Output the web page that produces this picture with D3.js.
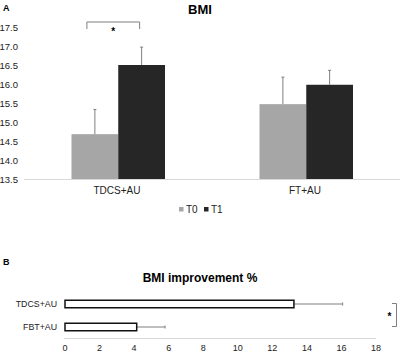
<!DOCTYPE html>
<html>
<head>
<meta charset="utf-8">
<script src="https://cdn.jsdelivr.net/npm/d3@7"></script>
<style>
  body { margin: 0; background: #fff; }
  svg { display: block; font-family: "Liberation Sans", Arial, sans-serif; }
</style>
</head>
<body>
<div id="chart"></div>
<script>
// Panel A data: mean BMI at T0 and T1, with SD (upper bar only)
const groups = ["TDCS+AU", "FT+AU"];
const series = ["T0", "T1"];
const bmiMeans = [[14.68, 16.5], [15.47, 15.98]];
const bmiErrs = [[0.65, 0.47], [0.71, 0.38]];
const yTicks = [13.5, 14.0, 14.5, 15.0, 15.5, 16.0, 16.5, 17.0, 17.5];

// Panel B data: BMI improvement %
const impGroups = ["TDCS+AU", "FBT+AU"];
const impValues = [13.25, 4.15];
const impErrs = [2.82, 1.64];
const xTicks = [0, 2, 4, 6, 8, 10, 12, 14, 16, 18];

const colors = { T0: "#a6a6a6", T1: "#262626" };

const svg = d3.select("#chart").append("svg")
  .attr("width", 400)
  .attr("height", 352);

// ---------- Panel A ----------
svg.append("text").attr("x", 3).attr("y", 11)
  .attr("font-size", 9).attr("font-weight", "bold").text("A");

svg.append("text").attr("x", 200).attr("y", 14)
  .attr("text-anchor", "middle").attr("font-size", 13).attr("font-weight", "bold")
  .text("BMI");

const y = d3.scaleLinear().domain([13.5, 17.5]).range([179, 27]);
const x0 = d3.scaleBand().domain(groups).range([24, 400]);
const x1 = d3.scaleBand().domain(series).range([47.5, 141]);

// y tick labels
svg.append("g").selectAll("text")
  .data(yTicks).enter().append("text")
  .attr("x", 18).attr("y", d => y(d) + 3.5)
  .attr("text-anchor", "end").attr("font-size", 9.5).attr("fill", "#222")
  .text(d => d.toFixed(1));

const gA = svg.append("g");
groups.forEach((g, gi) => {
  series.forEach((s, si) => {
    const bx = x0(g) + x1(s);
    const v = bmiMeans[gi][si];
    gA.append("rect")
      .attr("x", bx).attr("y", y(v))
      .attr("width", x1.bandwidth()).attr("height", y(13.5) - y(v))
      .attr("fill", colors[s]);
    const cx = bx + x1.bandwidth() / 2;
    const top = y(v + bmiErrs[gi][si]);
    gA.append("line").attr("x1", cx).attr("x2", cx)
      .attr("y1", y(v)).attr("y2", top)
      .attr("stroke", "#7f7f7f").attr("stroke-width", 1);
    gA.append("line").attr("x1", cx - 1.5).attr("x2", cx + 1.5)
      .attr("y1", top).attr("y2", top)
      .attr("stroke", "#7f7f7f").attr("stroke-width", 1);
  });
});

// x axis line
svg.append("line").attr("x1", 24).attr("x2", 400)
  .attr("y1", y(13.5) + 0.5).attr("y2", y(13.5) + 0.5)
  .attr("stroke", "#d9d9d9").attr("stroke-width", 1);

svg.append("g").selectAll("text")
  .data(groups).enter().append("text")
  .attr("x", d => x0(d) + x0.bandwidth() / 2 - 1)
  .attr("y", 194)
  .attr("text-anchor", "middle").attr("font-size", 10).attr("fill", "#222")
  .text(d => d);

// legend
const legend = svg.append("g");
[["T0", 181], ["T1", 206]].forEach(([s, lx]) => {
  legend.append("rect").attr("x", lx - 2).attr("y", 207)
    .attr("width", 4.5).attr("height", 4.5).attr("fill", colors[s]);
  legend.append("text").attr("x", lx + 5).attr("y", 212.5)
    .attr("font-size", 10).attr("fill", "#222").text(s);
});

// significance bracket A
const bl = x0(groups[0]) + x1("T0") + x1.bandwidth() / 2 - 8;
const br = x0(groups[0]) + x1("T1") + x1.bandwidth() / 2 - 2;
svg.append("path")
  .attr("d", `M${bl},29 V22 H${br} V29`)
  .attr("fill", "none").attr("stroke", "#7f7f7f").attr("stroke-width", 1);
svg.append("text").attr("x", (bl + br) / 2).attr("y", 35)
  .attr("text-anchor", "middle").attr("font-size", 10).attr("font-weight", "bold")
  .text("*");

// ---------- Panel B ----------
svg.append("text").attr("x", 3).attr("y", 265)
  .attr("font-size", 9).attr("font-weight", "bold").text("B");

svg.append("text").attr("x", 200).attr("y", 282)
  .attr("text-anchor", "middle").attr("font-size", 12).attr("font-weight", "bold")
  .text("BMI improvement %");

const xb = d3.scaleLinear().domain([0, 18]).range([65, 376]);
const yb = d3.scalePoint().domain(impGroups).range([304, 327]);
const barH = 7.5;

svg.append("line").attr("x1", 64).attr("x2", 376)
  .attr("y1", 338.5).attr("y2", 338.5)
  .attr("stroke", "#d9d9d9").attr("stroke-width", 1);

svg.append("g").selectAll("text")
  .data(xTicks).enter().append("text")
  .attr("x", d => xb(d)).attr("y", 351)
  .attr("text-anchor", "middle").attr("font-size", 9).attr("fill", "#222")
  .text(d => d);

const gB = svg.append("g");
impGroups.forEach((g, i) => {
  const cy = yb(g);
  const v = impValues[i];
  const e = xb(v + impErrs[i]);
  gB.append("line").attr("x1", xb(v)).attr("x2", e)
    .attr("y1", cy).attr("y2", cy)
    .attr("stroke", "#7f7f7f").attr("stroke-width", 1);
  gB.append("line").attr("x1", e).attr("x2", e)
    .attr("y1", cy - 1.5).attr("y2", cy + 1.5)
    .attr("stroke", "#7f7f7f").attr("stroke-width", 1);
  gB.append("rect")
    .attr("x", xb(0)).attr("y", cy - barH / 2)
    .attr("width", xb(v) - xb(0)).attr("height", barH)
    .attr("fill", "#fff").attr("stroke", "#111").attr("stroke-width", 1.5);
  gB.append("text").attr("x", 57).attr("y", cy + 3.2)
    .attr("text-anchor", "end").attr("font-size", 8.8).attr("fill", "#222")
    .text(g);
});

// significance bracket B
svg.append("path")
  .attr("d", "M392,303.5 H396.5 V326.5 H392")
  .attr("fill", "none").attr("stroke", "#7f7f7f").attr("stroke-width", 1);
svg.append("text").attr("x", 389.5).attr("y", 320)
  .attr("text-anchor", "middle").attr("font-size", 10).attr("font-weight", "bold")
  .text("*");
</script>
</body>
</html>
